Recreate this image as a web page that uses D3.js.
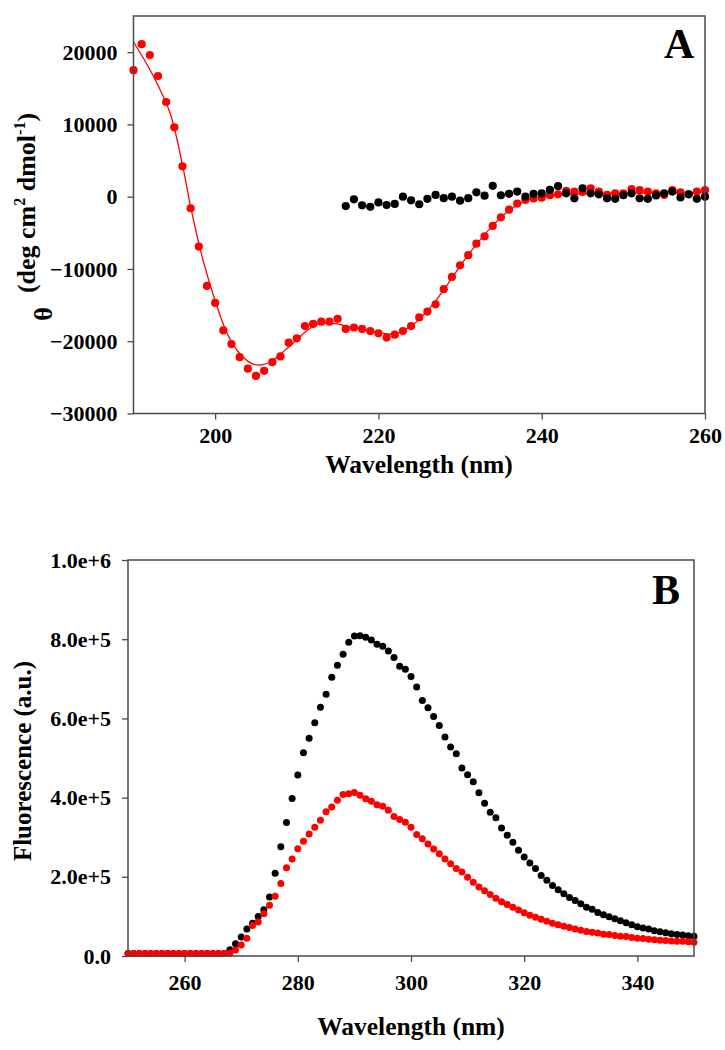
<!DOCTYPE html>
<html><head><meta charset="utf-8">
<script src="https://cdn.jsdelivr.net/npm/d3@7"></script>
<style>body{margin:0;background:#fff}svg{display:block}text{font-family:"Liberation Serif","Times New Roman",serif;font-weight:bold;fill:#000}</style>
</head><body><div id="chart"></div>
<script>
// ---------- Panel A: CD spectra ----------
const aRedStart = 190;
const aRed = [17500,21100,19600,16700,13100,9600,4200,-1600,-6900,-12350,
  -14700,-18500,-20400,-22200,-23800,-24800,-24100,-22900,-22100,-20200,
  -19600,-17900,-17600,-17300,-17300,-16900,-18300,-18100,-18300,-18600,
  -18900,-19500,-19100,-18600,-17900,-16700,-15900,-14900,-12800,-11100,
  -9500,-8100,-6500,-5500,-4050,-2850,-1800,-950,-450,-250,
  -150,200,330,800,700,650,1150,700,240,450,
  450,1060,900,700,450,240,900,600,330,700,900];
const aBlackStart = 216;
const aBlack = [-1300,-360,-1200,-1400,-800,-1150,-1000,0,-500,-1050,
  -300,240,-200,0,-550,-200,600,140,1500,200,
  400,700,0,400,450,930,1450,470,-230,1160,
  470,330,-230,-300,200,470,-230,-300,170,470,
  700,-100,330,-300,0];
const aFitWl  = [190,191.5,193,194.5,196,197,198.5,200,201.5,203,204.5,205.5,207,208.5,210,211.5,213,215,216,218,220,222,224,226,228,230,232,234,236,238,240,245,250,255,260];
const aFitVal = [21400,18600,15400,11500,4400,-1400,-8700,-14400,-19000,-21700,-23100,-23300,-22700,-21300,-19800,-18300,-17500,-17600,-17900,-18300,-18800,-19000,-17900,-15800,-12900,-9600,-6600,-4000,-1900,-600,0,400,500,500,600];
const aXTicks = [200,220,240,260];
const aYTicks = [20000,10000,0,-10000,-20000,-30000];

// ---------- Panel B: fluorescence (units of 1e5) ----------
const bStart = 250;
const bRed = [0.06,0.06,0.06,0.06,0.06,0.06,0.06,0.06,0.06,0.06,
  0.06,0.06,0.06,0.06,0.06,0.06,0.06,0.06,0.07,0.15,
  0.28,0.45,0.77,0.86,1.07,1.28,1.51,1.83,2.23,2.45,
  2.71,2.90,3.08,3.25,3.43,3.64,3.76,3.93,4.08,4.10,
  4.13,4.06,3.97,3.91,3.82,3.78,3.68,3.52,3.45,3.38,
  3.25,3.07,2.96,2.83,2.70,2.58,2.45,2.33,2.21,2.12,
  1.99,1.86,1.74,1.65,1.55,1.46,1.37,1.30,1.23,1.16,
  1.09,1.03,0.98,0.93,0.88,0.83,0.79,0.75,0.72,0.68,
  0.65,0.62,0.60,0.58,0.55,0.54,0.52,0.50,0.49,0.47,
  0.45,0.44,0.42,0.41,0.40,0.39,0.38,0.37,0.37,0.36,0.35];
const bBlack = [0.06,0.06,0.06,0.06,0.06,0.06,0.06,0.06,0.06,0.06,
  0.06,0.06,0.06,0.06,0.06,0.06,0.06,0.06,0.16,0.31,
  0.48,0.68,0.83,1.00,1.17,1.49,2.09,2.76,3.37,3.98,
  4.57,5.13,5.50,5.89,6.28,6.61,7.04,7.34,7.62,7.92,
  8.08,8.09,8.05,7.98,7.87,7.82,7.70,7.54,7.32,7.24,
  7.06,6.79,6.45,6.27,6.05,5.82,5.53,5.28,5.11,4.75,
  4.58,4.40,4.12,3.86,3.63,3.49,3.23,3.05,2.87,2.67,
  2.50,2.35,2.21,2.03,1.91,1.78,1.67,1.57,1.48,1.40,
  1.32,1.23,1.18,1.10,1.04,0.99,0.94,0.89,0.84,0.79,
  0.74,0.71,0.68,0.64,0.61,0.59,0.56,0.54,0.53,0.51,0.50];
const bXTicks = [260,280,300,320,340];
const bYTicks = [0,200000,400000,600000,800000,1000000];
const bYLabels = ["0.0","2.0e+5","4.0e+5","6.0e+5","8.0e+5","1.0e+6"];

const W = 725, H = 1050;
const svg = d3.select("#chart").append("svg").attr("width", W).attr("height", H);
const frameColor = "#4a4a4a";

function styleAxis(g){
  g.select(".domain").remove();
  g.selectAll(".tick line").attr("stroke", frameColor).attr("stroke-width", 1.3);
  g.selectAll(".tick text").attr("font-size", 22).attr("fill","#000");
}

// ===== Panel A =====
const xA = d3.scaleLinear().domain([190, 260]).range([133.5, 705]);
const yA = d3.scaleLinear().domain([-30000, 25000]).range([413.5, 16]);
const gA = svg.append("g");
gA.append("g").attr("transform", "translate(0,413.5)")
  .call(d3.axisBottom(xA).tickValues(aXTicks).tickSize(6).tickPadding(8).tickFormat(d3.format("d")))
  .call(styleAxis);
gA.append("g").attr("transform", "translate(133.5,0)")
  .call(d3.axisLeft(yA).tickValues(aYTicks).tickSize(6).tickPadding(10).tickFormat(d3.format("d")))
  .call(styleAxis);

const aRedPts = aRed.map((v,i)=>({x:aRedStart+i, y:v}));
const aBlackPts = aBlack.map((v,i)=>({x:aBlackStart+i, y:v}));
const aFit = aFitWl.map((w,i)=>({x:w, y:aFitVal[i]}));

gA.append("g").selectAll("circle").data(aRedPts).join("circle")
  .attr("cx", d=>xA(d.x)).attr("cy", d=>yA(d.y)).attr("r", 4.1).attr("fill", "#ff0000");
gA.append("path").datum(aFit)
  .attr("d", d3.line().x(d=>xA(d.x)).y(d=>yA(d.y)).curve(d3.curveCatmullRom))
  .attr("fill","none").attr("stroke","#ff0000").attr("stroke-width",1.3);
gA.append("g").selectAll("circle").data(aBlackPts).join("circle")
  .attr("cx", d=>xA(d.x)).attr("cy", d=>yA(d.y)).attr("r", 4.1).attr("fill", "#000");

gA.append("rect").attr("x", 133.5).attr("y", 16).attr("width", 705-133.5).attr("height", 413.5-16)
  .attr("fill","none").attr("stroke", frameColor).attr("stroke-width", 1.5);

gA.append("text").attr("x", 419).attr("y", 473).attr("text-anchor","middle").attr("font-size",25.5).text("Wavelength (nm)");
const yLabA = gA.append("text").attr("transform","translate(35,203) rotate(-90)").attr("text-anchor","middle").attr("font-size",26);
yLabA.append("tspan").text("(deg cm");
yLabA.append("tspan").attr("font-size",16).attr("dy",-10).text("2");
yLabA.append("tspan").attr("dy",10).text(" dmol");
yLabA.append("tspan").attr("font-size",16).attr("dy",-10).text("-1");
yLabA.append("tspan").attr("dy",10).text(")");
gA.append("text").attr("transform","translate(52,314) rotate(-90)").attr("text-anchor","middle").attr("font-size",26).text("θ");
gA.append("text").attr("x", 664).attr("y", 58).attr("font-size",42).text("A");

// ===== Panel B =====
const xB = d3.scaleLinear().domain([250, 350]).range([128, 694]);
const yB = d3.scaleLinear().domain([0, 1000000]).range([956, 560]);
const gB = svg.append("g");
gB.append("g").attr("transform", "translate(0,956)")
  .call(d3.axisBottom(xB).tickValues(bXTicks).tickSize(6).tickPadding(12).tickFormat(d3.format("d")))
  .call(styleAxis);
gB.append("g").attr("transform", "translate(128,0)")
  .call(d3.axisLeft(yB).tickValues(bYTicks).tickSize(6).tickPadding(11).tickFormat((d,i)=>bYLabels[i]))
  .call(styleAxis);

const bBlackPts = bBlack.map((v,i)=>({x:bStart+i, y:v*1e5}));
const bRedPts = bRed.map((v,i)=>({x:bStart+i, y:v*1e5}));
gB.append("g").selectAll("circle").data(bBlackPts).join("circle")
  .attr("cx", d=>xB(d.x)).attr("cy", d=>yB(d.y)).attr("r", 3.5).attr("fill", "#000");
gB.append("g").selectAll("circle").data(bRedPts).join("circle")
  .attr("cx", d=>xB(d.x)).attr("cy", d=>yB(d.y)).attr("r", 3.5).attr("fill", "#ff0000");

gB.append("rect").attr("x", 128).attr("y", 560).attr("width", 694-128).attr("height", 956-560)
  .attr("fill","none").attr("stroke", frameColor).attr("stroke-width", 1.5);

gB.append("text").attr("x", 411).attr("y", 1035).attr("text-anchor","middle").attr("font-size",25.5).text("Wavelength (nm)");
gB.append("text").attr("transform","translate(31,761) rotate(-90)").attr("text-anchor","middle").attr("font-size",25).text("Fluorescence (a.u.)");
gB.append("text").attr("x", 652).attr("y", 604).attr("font-size",42).text("B");
</script></body></html>
